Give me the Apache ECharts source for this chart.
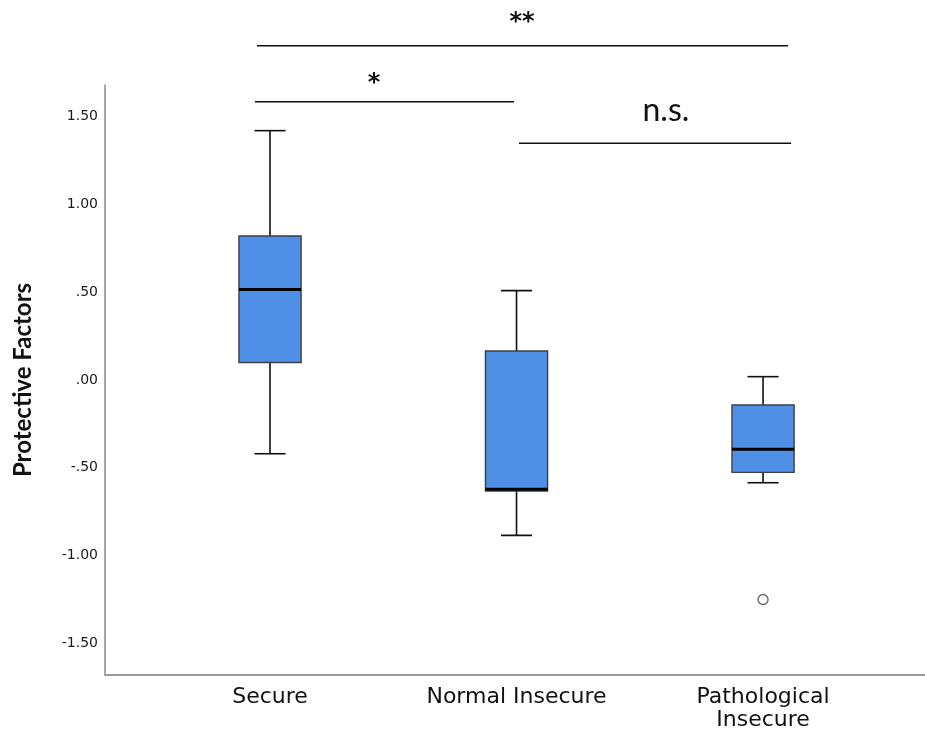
<!DOCTYPE html>
<html>
<head>
<meta charset="utf-8">
<script src="https://cdn.jsdelivr.net/npm/echarts@6/dist/echarts.min.js"></script>
<style>
  html, body { margin: 0; padding: 0; background: #fff; }
  #chart { width: 925px; height: 732px; }
</style>
</head>
<body>
<div id="chart"></div>
<script>
// groups (x positions 1, 2, 3)
const groups = ["Secure", "Normal Insecure", "Pathological\nInsecure"];

// box statistics per group
const whiskerLow = [-0.42, -0.885, -0.585];
const q1 = [0.10, -0.632, -0.526];
const median = [0.515, -0.622, -0.395];
const q3 = [0.82, 0.165, -0.142];
const whiskerHigh = [1.42, 0.509, 0.019];

// outliers: [group position, value]
const outliers = [[3, -1.25]];

// y tick labels
const yTicks = [-1.5, -1.0, -0.5, 0, 0.5, 1.0, 1.5];

// significance brackets
const sigLabels = ["**", "*", "n.s."];
const sigFrom = [0.947, 0.939, 2.010];
const sigTo = [3.101, 1.990, 3.114];
const sigLevel = [1.903, 1.585, 1.348];
const sigTextX = [2.022, 1.422, 2.606];

const BOX_WIDTH = 0.252; // in x-axis units
// how far each label sits above its bracket line (px)
const textLift = { "**": 11, "*": 6, "n.s.": 17 };

const boxData = groups.map((g, i) => [i + 1, whiskerLow[i], q1[i], median[i], q3[i], whiskerHigh[i]]);
const sigData = sigLabels.map((s, i) => [sigFrom[i], sigTo[i], sigLevel[i], sigTextX[i]]);

function fmtTick(v) {
    // SPSS style: drop the leading zero
    let s = Math.abs(v).toFixed(2).replace(/^0/, "");
    return (v < 0 ? "-" : "") + s;
}

const chart = echarts.init(document.getElementById("chart"));

const option = {
    animation: false,
    backgroundColor: "#fff",
    grid: { left: 105, right: 0, top: 85, bottom: 57 },
    xAxis: {
        type: "value",
        min: 0.3306,
        max: 3.657,
        splitLine: { show: false },
        axisTick: { show: false },
        axisLine: { show: true, onZero: false, lineStyle: { color: "#9a9a9a", width: 2 } },
        axisLabel: {
            customValues: [1, 2, 3],
            formatter: (v) => groups[Math.round(v) - 1] || "",
            fontFamily: "DejaVu Sans",
            fontSize: 22,
            color: "#111",
            margin: 11,
            lineHeight: 23
        }
    },
    yAxis: {
        type: "value",
        min: -1.68,
        max: 1.68,
        name: "Protective Factors",
        nameLocation: "middle",
        nameGap: 70,
        nameTextStyle: { fontFamily: "Lato", fontWeight: "bold", fontSize: 24, color: "#111" },
        splitLine: { show: false },
        axisTick: { show: false },
        axisLine: { show: true, onZero: false, lineStyle: { color: "#8a8a8a", width: 1.5 } },
        axisLabel: {
            customValues: yTicks,
            formatter: fmtTick,
            fontFamily: "DejaVu Sans",
            fontSize: 14,
            color: "#1a1a1a",
            margin: 7
        }
    },
    series: [
        {
            type: "custom",
            data: boxData,
            encode: { x: 0, y: [1, 2, 3, 4, 5] },
            renderItem: function (params, api) {
                const x = api.value(0);
                const lo = api.coord([x, api.value(1)]);
                const b1 = api.coord([x, api.value(2)]);
                const md = api.coord([x, api.value(3)]);
                const b3 = api.coord([x, api.value(4)]);
                const hi = api.coord([x, api.value(5)]);
                const w = api.size([BOX_WIDTH, 0])[0];
                const cap = w / 4;
                const cx = lo[0];
                const ls = { stroke: "#111", lineWidth: 1.6 };
                return {
                    type: "group",
                    children: [
                        { type: "line", shape: { x1: cx, y1: hi[1], x2: cx, y2: b3[1] }, style: ls },
                        { type: "line", shape: { x1: cx, y1: b1[1], x2: cx, y2: lo[1] }, style: ls },
                        { type: "line", shape: { x1: cx - cap, y1: hi[1], x2: cx + cap, y2: hi[1] }, style: ls },
                        { type: "line", shape: { x1: cx - cap, y1: lo[1], x2: cx + cap, y2: lo[1] }, style: ls },
                        {
                            type: "rect",
                            shape: { x: cx - w / 2, y: b3[1], width: w, height: b1[1] - b3[1] },
                            style: { fill: "#4f8fe6", stroke: "#3a3f47", lineWidth: 1.4 }
                        },
                        { type: "line", shape: { x1: cx - w / 2, y1: md[1], x2: cx + w / 2, y2: md[1] }, style: { stroke: "#000", lineWidth: 3 } }
                    ]
                };
            }
        },
        {
            type: "scatter",
            data: outliers,
            symbol: "circle",
            symbolSize: 10,
            z: 5,
            itemStyle: { color: "#ffffff", borderColor: "#444", borderWidth: 1.4 }
        },
        {
            type: "custom",
            data: sigData,
            clip: false,
            encode: { x: [0, 1, 3], y: 2 },
            renderItem: function (params, api) {
                const a = api.coord([api.value(0), api.value(2)]);
                const b = api.coord([api.value(1), api.value(2)]);
                const t = api.coord([api.value(3), api.value(2)]);
                const label = sigLabels[params.dataIndex];
                const isStar = label.indexOf("*") >= 0;
                return {
                    type: "group",
                    children: [
                        { type: "line", shape: { x1: a[0], y1: a[1], x2: b[0], y2: b[1] }, style: { stroke: "#111", lineWidth: 1.5 } },
                        {
                            type: "text",
                            style: {
                                text: label,
                                x: t[0],
                                y: a[1] - textLift[label],
                                align: "center",
                                verticalAlign: "bottom",
                                font: isStar ? 'bold 24px "DejaVu Sans", sans-serif' : '32px "Lato", sans-serif',
                                fill: "#111"
                            }
                        }
                    ]
                };
            }
        }
    ]
};

chart.setOption(option);
</script>
</body>
</html>
